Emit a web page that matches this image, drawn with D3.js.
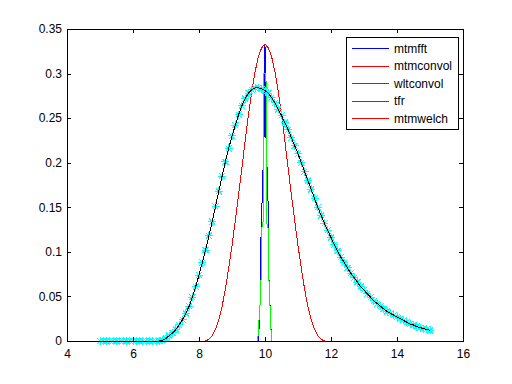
<!DOCTYPE html>
<html>
<head>
<meta charset="utf-8">
<script src="https://cdnjs.cloudflare.com/ajax/libs/d3/7.8.5/d3.min.js"></script>
<style>
  body { margin: 0; background: #fff; }
  .chart text { font-family: "Liberation Sans", Arial, sans-serif; font-size: 12px; fill: #000; }
  .axis path, .axis line { stroke: #000; shape-rendering: crispEdges; }
  .trace { fill: none; stroke-width: 1; shape-rendering: crispEdges; }
</style>
</head>
<body>
<svg class="chart"></svg>
<script>
// DATA
var xTicks = [4, 6, 8, 10, 12, 14, 16];
var yTicks = [0, 0.05, 0.1, 0.15, 0.2, 0.25, 0.3, 0.35];
var legendNames = ["mtmfft", "mtmconvol", "wltconvol", "tfr", "mtmwelch"];
var legendColors = ["#0000ff", "#ff0000", "#ff0000", "#ff0000", "#ff0000"];

// mtmfft (blue spike)
var fftFreq = [5, 9.79, 9.82, 9.85, 9.87, 9.88, 9.93, 9.95, 9.98, 10, 10.02, 10.05, 10.08, 10.11, 10.12, 10.15, 10.18, 10.21, 15];
var fftPow  = [0, 0, 0.014, 0.042, 0.07, 0.12, 0.18, 0.205, 0.24, 0.332, 0.24, 0.205, 0.18, 0.12, 0.07, 0.042, 0.014, 0, 0];

// mtmconvol / wltconvol (red bell)
var convFreq = [5, 8.2, 8.3, 8.4, 8.5, 8.6, 8.7, 8.8, 8.9, 9.0, 9.1, 9.2, 9.3, 9.4, 9.5, 9.6, 9.7, 9.8, 9.9, 10,
                10.1, 10.2, 10.3, 10.4, 10.5, 10.6, 10.7, 10.8, 10.9, 11.0, 11.1, 11.2, 11.3, 11.4, 11.5, 11.6, 11.7, 11.8, 15];
var mtmconvolPow = [0, 0, 0.002, 0.006, 0.013, 0.024, 0.039, 0.058, 0.082, 0.107, 0.135, 0.164, 0.194, 0.225, 0.254, 0.28, 0.302, 0.319, 0.329, 0.333,
                    0.329, 0.319, 0.302, 0.28, 0.254, 0.225, 0.194, 0.164, 0.135, 0.107, 0.082, 0.058, 0.039, 0.024, 0.013, 0.006, 0.002, 0, 0];
var wltconvolPow = [0, 0, 0.002, 0.006, 0.013, 0.024, 0.039, 0.058, 0.082, 0.107, 0.135, 0.164, 0.194, 0.225, 0.254, 0.28, 0.302, 0.319, 0.329, 0.333,
                    0.329, 0.319, 0.302, 0.28, 0.254, 0.225, 0.194, 0.164, 0.135, 0.107, 0.082, 0.058, 0.039, 0.024, 0.013, 0.006, 0.002, 0, 0];

// tfr (green spike)
var tfrFreq = [5, 9.78, 9.8, 9.85, 9.88, 9.89, 9.95, 9.96, 10.03, 10.04, 10.1, 10.12, 10.15, 10.18, 10.21, 15];
var tfrPow  = [0, 0, 0.013, 0.041, 0.069, 0.125, 0.135, 0.3, 0.3, 0.135, 0.125, 0.069, 0.041, 0.013, 0, 0];

// mtmwelch (black line, cyan stars), 5 to 15 step 0.1
var welchFreq = [5.0, 5.1, 5.2, 5.3, 5.4, 5.5, 5.6, 5.7, 5.8, 5.9,
                 6.0, 6.1, 6.2, 6.3, 6.4, 6.5, 6.6, 6.7, 6.8, 6.9,
                 7.0, 7.1, 7.2, 7.3, 7.4, 7.5, 7.6, 7.7, 7.8, 7.9,
                 8.0, 8.1, 8.2, 8.3, 8.4, 8.5, 8.6, 8.7, 8.8, 8.9,
                 9.0, 9.1, 9.2, 9.3, 9.4, 9.5, 9.6, 9.7, 9.8, 9.9,
                 10.0, 10.1, 10.2, 10.3, 10.4, 10.5, 10.6, 10.7, 10.8, 10.9,
                 11.0, 11.1, 11.2, 11.3, 11.4, 11.5, 11.6, 11.7, 11.8, 11.9,
                 12.0, 12.1, 12.2, 12.3, 12.4, 12.5, 12.6, 12.7, 12.8, 12.9,
                 13.0, 13.1, 13.2, 13.3, 13.4, 13.5, 13.6, 13.7, 13.8, 13.9,
                 14.0, 14.1, 14.2, 14.3, 14.4, 14.5, 14.6, 14.7, 14.8, 14.9, 15.0];
var welchPow = [0, 0, 0, 0, 0, 0, 0, 0, 0, 0,
                0, 0, 0, 0, 0, 0, 0, 0, 0, 0.001,
                0.003, 0.006, 0.009, 0.013, 0.018, 0.024, 0.031, 0.039, 0.049, 0.061,
                0.074, 0.088, 0.102, 0.118, 0.134, 0.151, 0.168, 0.185, 0.201, 0.216,
                0.230, 0.242, 0.254, 0.264, 0.272, 0.278, 0.282, 0.284, 0.284, 0.283,
                0.281, 0.278, 0.273, 0.267, 0.260, 0.253, 0.245, 0.237, 0.228, 0.219,
                0.210, 0.200, 0.190, 0.180, 0.170, 0.160, 0.150, 0.141, 0.132, 0.124,
                0.116, 0.108, 0.101, 0.094, 0.088, 0.082, 0.076, 0.071, 0.066, 0.061,
                0.057, 0.053, 0.049, 0.045, 0.042, 0.039, 0.036, 0.033, 0.031, 0.029,
                0.027, 0.025, 0.023, 0.021, 0.019, 0.018, 0.016, 0.015, 0.014, 0.013, 0.012];

var margin = {top: 29, right: 49, bottom: 43, left: 67},
    width = 512 - margin.left - margin.right,
    height = 384 - margin.top - margin.bottom;

var svg = d3.select(".chart")
    .attr("width", 512)
    .attr("height", 384);

var g = svg.append("g")
    .attr("transform", "translate(" + margin.left + "," + margin.top + ")");

// SCALES
var x = d3.scaleLinear().domain([4, 16]).range([0, width]);
var y = d3.scaleLinear().domain([0, 0.35]).range([height, 0]);

function zip(xs, ys) {
  return xs.map(function(d, i) { return [d, ys[i]]; });
}

var line = d3.line()
    .x(function(d) { return x(d[0]); })
    .y(function(d) { return y(d[1]); });

// TRACES (drawn in plot order)
var traces = [
  {data: zip(fftFreq, fftPow), color: "#0000ff"},
  {data: zip(convFreq, mtmconvolPow), color: "#ff0000"},
  {data: zip(convFreq, wltconvolPow), color: "#ff0000"},
  {data: zip(tfrFreq, tfrPow), color: "#00ff00"}
];

g.selectAll(".trace").data(traces)
  .enter().append("path")
    .attr("class", "trace")
    .attr("stroke", function(d) { return d.color; })
    .attr("d", function(d) { return line(d.data); });

// WELCH STAR MARKERS then BLACK LINE
var welch = zip(welchFreq, welchPow);
var star = "M-4,0H4M0,-4V4M-3,-3L3,3M-3,3L3,-3";

g.selectAll(".star").data(welch)
  .enter().append("path")
    .attr("class", "star")
    .attr("transform", function(d) { return "translate(" + x(d[0]) + "," + y(d[1]) + ")"; })
    .attr("d", star)
    .attr("fill", "none")
    .attr("stroke", "#00ffff")
    .attr("shape-rendering", "crispEdges");

g.append("path")
    .attr("class", "trace")
    .attr("stroke", "#000")
    .attr("d", line(welch));

// AXES (box with inward ticks)
g.append("g")
    .attr("class", "axis")
    .attr("transform", "translate(0," + height + ")")
    .call(d3.axisBottom(x).tickValues(xTicks).tickSize(-4).tickPadding(8).tickSizeOuter(0));

g.append("g")
    .attr("class", "axis")
    .call(d3.axisTop(x).tickValues(xTicks).tickSize(-4).tickSizeOuter(0).tickFormat(""));

g.append("g")
    .attr("class", "axis")
    .call(d3.axisLeft(y).tickValues(yTicks).tickSize(-4).tickPadding(5).tickSizeOuter(0)
      .tickFormat(function(d) { return d3.format("")(+d.toFixed(2)); }));

g.append("g")
    .attr("class", "axis")
    .attr("transform", "translate(" + width + ",0)")
    .call(d3.axisRight(y).tickValues(yTicks).tickSize(-4).tickSizeOuter(0).tickFormat(""));

g.selectAll(".axis text").attr("font-size", 12).attr("font-family", "Liberation Sans, Arial, sans-serif");

// LEGEND
var legend = svg.append("g")
    .attr("class", "legend")
    .attr("transform", "translate(346,37)");

legend.append("rect")
    .attr("x", 0.5)
    .attr("y", 0.5)
    .attr("width", 112)
    .attr("height", 92)
    .attr("fill", "#fff")
    .attr("stroke", "#000")
    .attr("shape-rendering", "crispEdges");

var entries = legendNames.map(function(name, i) {
  return {name: name, color: legendColors[i], row: i};
});

legend.selectAll(".swatch").data(entries)
  .enter().append("rect")
    .attr("class", "swatch")
    .attr("x", 6)
    .attr("y", function(d) { return 11 + d.row * 17.5; })
    .attr("width", 37)
    .attr("height", 1)
    .attr("fill", function(d) { return d.color; })
    .attr("shape-rendering", "crispEdges");

legend.selectAll(".label").data(entries)
  .enter().append("text")
    .attr("class", "label")
    .attr("x", 48)
    .attr("y", function(d) { return 11.5 + d.row * 17.5; })
    .attr("dy", "0.35em")
    .text(function(d) { return d.name; });
</script>
</body>
</html>
